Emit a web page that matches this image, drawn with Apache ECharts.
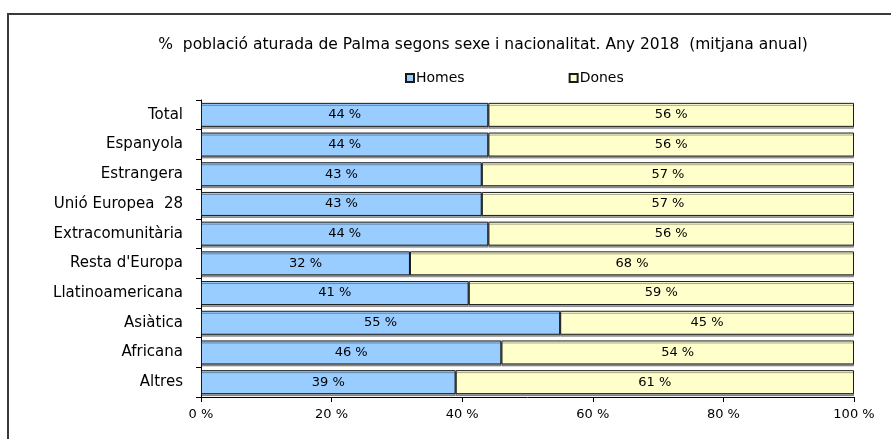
<!DOCTYPE html>
<html>
<head>
<meta charset="utf-8">
<script src="https://cdn.jsdelivr.net/npm/echarts@6/dist/echarts.min.js"></script>
<style>
html,body{margin:0;padding:0;background:#fff;}
#chart{width:891px;height:439px;}
</style>
</head>
<body>
<div id="chart"></div>
<script>
// Categories (top to bottom) and share of unemployed by sex, in %
const categories = ['Total', 'Espanyola', 'Estrangera', 'Unió Europea  28', 'Extracomunitària',
  "Resta d'Europa", 'Llatinoamericana', 'Asiàtica', 'Africana', 'Altres'];
const homes = [44, 44, 43, 43, 44, 32, 41, 55, 46, 39];
const dones = [56, 56, 57, 57, 56, 68, 59, 45, 54, 61];
const xTicks = [0, 20, 40, 60, 80, 100];

const FONT = 'DejaVu Sans';
const chart = echarts.init(document.getElementById('chart'));

const barStyle = (color) => ({
  color: color,
  borderColor: '#1a1a1a',
  borderWidth: 1,
  shadowColor: 'rgba(0,0,0,0.35)',
  shadowOffsetY: 2,
  shadowBlur: 0
});
const labelStyle = {
  show: true,
  position: 'inside',
  color: '#000',
  fontFamily: FONT,
  fontSize: 13,
  formatter: (p) => p.value + ' %'
};

chart.setOption({
  animation: false,
  backgroundColor: '#fff',
  graphic: [{
    type: 'rect',
    shape: { x: 8, y: 14, width: 900, height: 460 },
    style: { fill: 'none', stroke: '#3a3a3a', lineWidth: 2 },
    silent: true
  }],
  title: {
    text: '%  població aturada de Palma segons sexe i nacionalitat. Any 2018  (mitjana anual)',
    left: 478,
    textAlign: 'center',
    top: 32,
    textStyle: { fontFamily: FONT, fontSize: 15.5, fontWeight: 'normal', color: '#000' }
  },
  legend: {
    top: 66,
    left: 400,
    itemGap: 104,
    itemWidth: 8,
    itemHeight: 8,
    icon: 'rect',
    textStyle: { fontFamily: FONT, fontSize: 14, color: '#000', padding: [0, 0, 0, -3] },
    data: ['Homes', 'Dones']
  },
  grid: { left: 201, right: 37, top: 100, bottom: 42 },
  xAxis: {
    type: 'value',
    min: xTicks[0],
    max: xTicks[xTicks.length - 1],
    interval: xTicks[1] - xTicks[0],
    axisLine: { show: true, lineStyle: { color: '#000', width: 1 } },
    axisTick: { show: true, length: 5, lineStyle: { color: '#000' } },
    splitLine: { show: false },
    axisLabel: { fontFamily: FONT, fontSize: 13, color: '#000', margin: 11, formatter: '{value} %' }
  },
  yAxis: {
    type: 'category',
    inverse: true,
    data: categories,
    axisLine: { show: true, lineStyle: { color: '#000', width: 1 } },
    axisTick: { show: true, length: 5, lineStyle: { color: '#000' } },
    axisLabel: { fontFamily: FONT, fontSize: 15, color: '#000', margin: 18 }
  },
  series: [
    { name: 'Homes', type: 'bar', stack: 'sexe', barWidth: 24, data: homes,
      itemStyle: barStyle('#99ccff'), label: labelStyle },
    { name: 'Dones', type: 'bar', stack: 'sexe', barWidth: 24, data: dones,
      itemStyle: barStyle('#ffffcc'), label: labelStyle }
  ]
});
</script>
</body>
</html>
